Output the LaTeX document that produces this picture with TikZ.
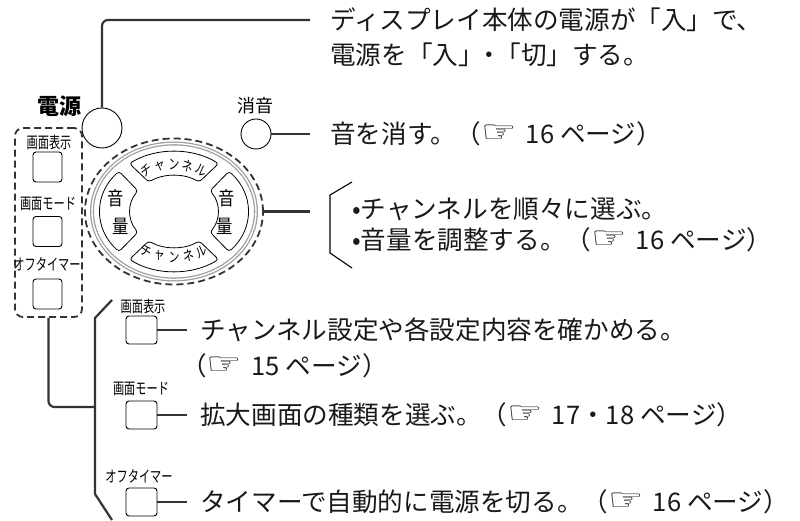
\documentclass[tikz,border=0pt]{standalone}
\usepackage{fontspec}
\setmainfont{Noto Sans CJK JP}
\newfontfamily\symfont{DejaVu Sans}
\usetikzlibrary{shapes.geometric}

% page reference: （☞ n ページ）
\newcommand{\hand}{\raisebox{1pt}{\scalebox{1.55}[1.2]{\symfont ☞}}}
\newcommand{\seepg}[1]{（\hand\hspace{9pt}#1\hspace{6pt}ページ）}
% one key of the cross pad: outer arc #1->#2, inner arc #3->#4
\newcommand{\padseg}[4]{%
  \draw[pad] ([shift={(#1:74pt and 60pt)}]ctr)
    arc[start angle=#1, end angle=#2, x radius=74pt, y radius=60pt]
    -- ([shift={(#3:44pt and 36pt)}]ctr)
    arc[start angle=#3, end angle=#4, x radius=44pt, y radius=36pt] -- cycle;}

\begin{document}
\begin{tikzpicture}[x=1pt, y=1pt,
  txt/.style={anchor=west, inner sep=0pt, font=\fontsize{25.6}{30}\selectfont, text=black!90},
  keylbl/.style={inner sep=0pt, font=\fontsize{16}{16}\selectfont, xscale=0.7},
  keybox/.style={draw, rectangle, rounded corners=3pt, minimum width=31pt,
    minimum height=28pt, inner sep=0pt, line width=0.9pt},
  rbtn/.style={draw, circle, inner sep=0pt, line width=0.9pt},
  conn/.style={line width=2.2pt, black!80, rounded corners=6pt},
  dashbox/.style={draw=black!80, line width=1.8pt, dash pattern=on 7pt off 4pt, inner sep=0pt},
  pad/.style={draw, fill=white, line width=0.8pt, rounded corners=3pt},
  padtxt/.style={inner sep=0pt, font=\fontsize{14}{14}\selectfont, xscale=0.78}
]
\useasboundingbox (0,0) rectangle (800,521);

%% -- power button ----------------------------------------------
\node[rbtn, minimum size=40pt] (pwr) at (102,393) {};
\node[inner sep=0pt, font=\fontsize{22}{22}\selectfont\bfseries] (pwrlbl) at (59,415) {電源};
\node[txt] (t1a) at (330,501) {ディスプレイ本体の電源が「入」で、};
\node[txt] (t1b) at (330,466) {電源を「入」\hspace{-7pt}・\hspace{-7pt}「切」する。};
\draw[conn] (pwr.north) |- ([xshift=-20pt]t1a.west);

%% -- mute button -----------------------------------------------
\node[rbtn, minimum size=30pt] (mute) at (256,387) {};
\node[inner sep=0pt, font=\fontsize{18}{18}\selectfont] (mutelbl) at (255,415) {消音};
\node[txt] (t2) at (330,387) {音を消す。\seepg{16}};
\draw[conn] (mute.east) -- ([xshift=-20pt]t2.west);

%% -- cross pad -------------------------------------------------
\coordinate (ctr) at (174,309.5);
\node[dashbox, ellipse, minimum width=178pt, minimum height=146pt] (ring) at (ctr) {};
\draw[gray!75, line width=1.3pt, double=white, double distance=1.4pt]
  (ctr) ellipse [x radius=82pt, y radius=68pt];
\padseg{53}{127}{125}{55}
\padseg{138}{222}{215}{145}
\padseg{233}{307}{305}{235}
\padseg{-42}{42}{35}{-35}
\foreach \c [count=\i] in {チ,ャ,ン,ネ,ル} {
  \pgfmathsetmacro{\a}{90+(3-\i)*14.5}
  \node[padtxt, rotate=\a-90] (ct\i) at ([shift={(\a:57pt and 47pt)}]ctr) {\c};
  \pgfmathsetmacro{\b}{270+(\i-3)*14.5}
  \node[padtxt, rotate=\b-270] (cb\i) at ([shift={(\b:57pt and 46pt)}]ctr) {\c};
}
\node[padtxt, font=\fontsize{19}{19}\selectfont, xscale=1.1] (vl1) at (116,323) {音};
\node[padtxt, font=\fontsize{19}{19}\selectfont, xscale=1.1] (vl2) at (121,295) {量};
\node[padtxt, font=\fontsize{19}{19}\selectfont, xscale=1.1] (vr1) at (227,323) {音};
\node[padtxt, font=\fontsize{19}{19}\selectfont, xscale=1.1] (vr2) at (225,295) {量};

\coordinate (brk) at (330,309.5);
\draw[conn] (ring.east) -- ([xshift=-20pt]brk);
\draw[line width=1.1pt] ([shift={(22pt,29.5pt)}]brk) -- ([shift={(0pt,16.5pt)}]brk)
  -- ([shift={(0pt,-41.5pt)}]brk) -- ([shift={(22pt,-56.5pt)}]brk);
\node[txt] (b1) at (352,312) {•チャンネルを順々に選ぶ。};
\node[txt] (b2) at (352,281) {•音量を調整する。\seepg{16}};

%% -- side panel ------------------------------------------------
\node[dashbox, rounded corners=8pt, minimum width=67pt, minimum height=189pt] (panel) at (48.5,298.5) {};
\node[keylbl] (pl1) at (49,379) {画面表示};
\node[keybox, minimum width=29pt, minimum height=30pt] (pk1) at (47.5,354) {};
\node[keylbl] (pl2) at (48,317) {画面モード};
\node[keybox, minimum width=29pt, minimum height=30pt] (pk2) at (47.5,289.5) {};
\node[keylbl] (pl3) at (47,257) {オフタイマー};
\node[keybox, minimum width=29pt, minimum height=30pt] (pk3) at (47.5,227) {};

\coordinate (fork) at (95,114);
\draw[conn] (panel.south) |- (fork);
\draw[conn, rounded corners=0pt] (112,221) -- (95,203) -- (95,27) -- (112,1);

%% -- panel keys explained ----------------------------------------
\node[keylbl] (kl1) at (143,215) {画面表示};
\node[keybox] (k1) at (141.5,191) {};
\node[txt] (d1) at (200,191) {チャンネル設定や各設定内容を確かめる。};
\node[txt] (d1b) at (181,155) {\seepg{15}};
\draw[conn] (k1.east) -- ([xshift=-13pt]d1.west);

\node[keylbl] (kl2) at (141,132) {画面モード};
\node[keybox] (k2) at (141.5,106) {};
\node[txt] (d2) at (200,106) {拡大画面の種類を選ぶ。（\hand\hspace{9pt}17・18\hspace{6pt}ページ）};
\draw[conn] (k2.east) -- ([xshift=-13pt]d2.west);

\node[keylbl] (kl3) at (139,45) {オフタイマー};
\node[keybox] (k3) at (141.5,19) {};
\node[txt] (d3) at (200,19) {タイマーで自動的に電源を切る。\seepg{16}};
\draw[conn] (k3.east) -- ([xshift=-13pt]d3.west);

\end{tikzpicture}
\end{document}
